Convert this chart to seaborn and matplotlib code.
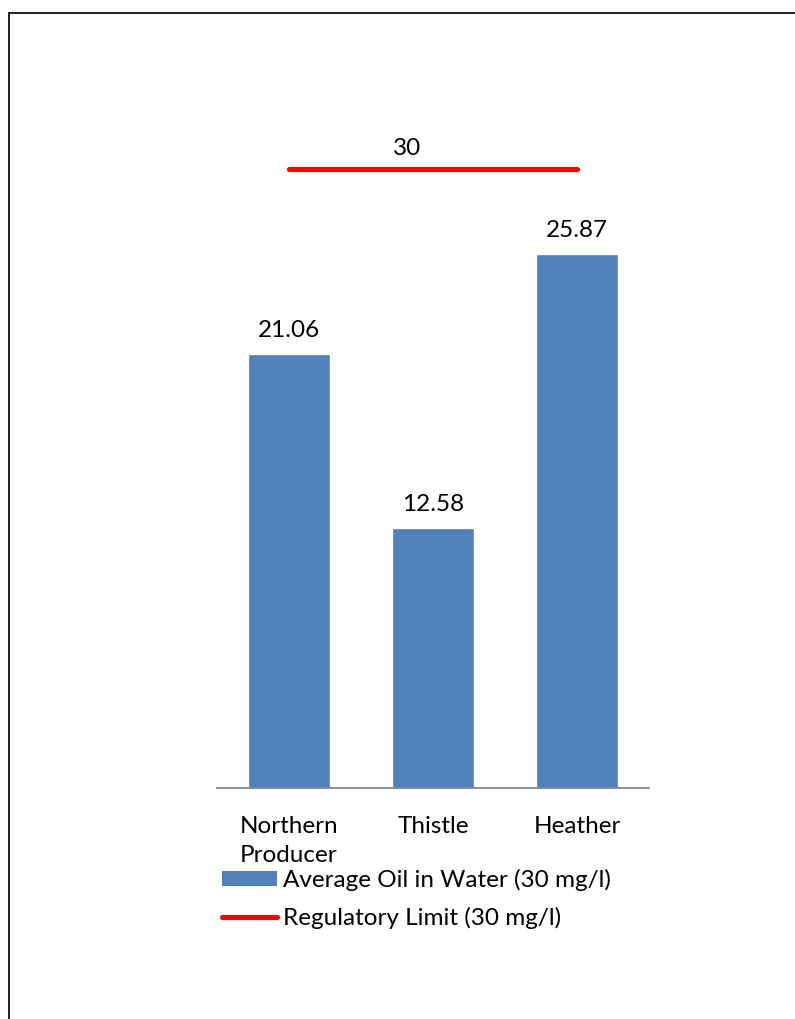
import numpy as np
import pandas as pd
import matplotlib
matplotlib.use("Agg")
import matplotlib.pyplot as plt
from matplotlib.lines import Line2D
from matplotlib.patches import Patch
import seaborn as sns

categories = ["Northern\nProducer", "Thistle", "Heather"]
oil_in_water = [21.06, 12.58, 25.87]
regulatory_limit = [30, 30, 30]
bar_label = "Average Oil in Water (30 mg/l)"
limit_label = "Regulatory Limit (30 mg/l)"

BAR_COLOR = "#4F81BD"
LIMIT_COLOR = "#FF0000"
FONT = "Lato"
FS = 17.5

sns.set_theme(style="white")
plt.rcParams["font.family"] = [FONT, "DejaVu Sans"]
plt.rcParams["text.color"] = "black"

W, H = 795, 1019
fig = plt.figure(figsize=(W / 100, H / 100), dpi=100)
ax = fig.add_axes([217 / W, 1 - 788 / H, (649 - 217) / W, (788 - 66) / H])

df = pd.DataFrame({"site": categories, "value": oil_in_water})
sns.barplot(data=df, x="site", y="value", color=BAR_COLOR, width=0.57,
            saturation=1, ax=ax)

pos = np.arange(len(categories))
sns.lineplot(x=pos, y=regulatory_limit, color=LIMIT_COLOR, linewidth=3.7,
             ax=ax, solid_capstyle="round")

ax.set_xlim(-0.5, len(categories) - 0.5)
ax.set_ylim(0, 35)
ax.set_xlabel("")
ax.set_ylabel("")
ax.set_yticks([])
ax.tick_params(axis="x", length=0, pad=20, labelsize=FS, labelcolor="black")
for lbl in ax.get_xticklabels():
    lbl.set_linespacing(1.5)
for s in ["top", "left", "right"]:
    ax.spines[s].set_visible(False)
ax.spines["bottom"].set_color("#888888")
ax.spines["bottom"].set_linewidth(1.3)

for x, v in zip(pos, oil_in_water):
    ax.annotate(f"{v:.2f}", (x, v), xytext=(0, 13), textcoords="offset pixels",
                ha="center", va="bottom", fontsize=FS, color="black")
ax.annotate(f"{regulatory_limit[1]:g}", (0.82, regulatory_limit[1]), xytext=(0, 10),
            textcoords="offset pixels", ha="center", va="bottom",
            fontsize=FS, color="black")

handles = [Patch(facecolor=BAR_COLOR, edgecolor="none"),
           Line2D([0], [0], color=LIMIT_COLOR, linewidth=3.7, solid_capstyle="round")]
leg = fig.legend(handles, [bar_label, limit_label], loc="upper left",
                 bbox_to_anchor=(222 / W, 1 - 869 / H), frameon=False, fontsize=FS,
                 handlelength=2.25, handletextpad=0.25, labelspacing=0.65,
                 handleheight=0.6, borderpad=0, borderaxespad=0)
for t in leg.get_texts():
    t.set_color("black")

# outer frame (left and top edges)
fig.add_artist(Line2D([8.5 / W, 8.5 / W], [0, 1 - 12.5 / H], transform=fig.transFigure,
                      color="#222222", linewidth=1.4))
fig.add_artist(Line2D([8.5 / W, 1], [1 - 12.5 / H, 1 - 12.5 / H], transform=fig.transFigure,
                      color="#222222", linewidth=1.4))

fig.savefig("out.png", dpi=100, facecolor="white")
